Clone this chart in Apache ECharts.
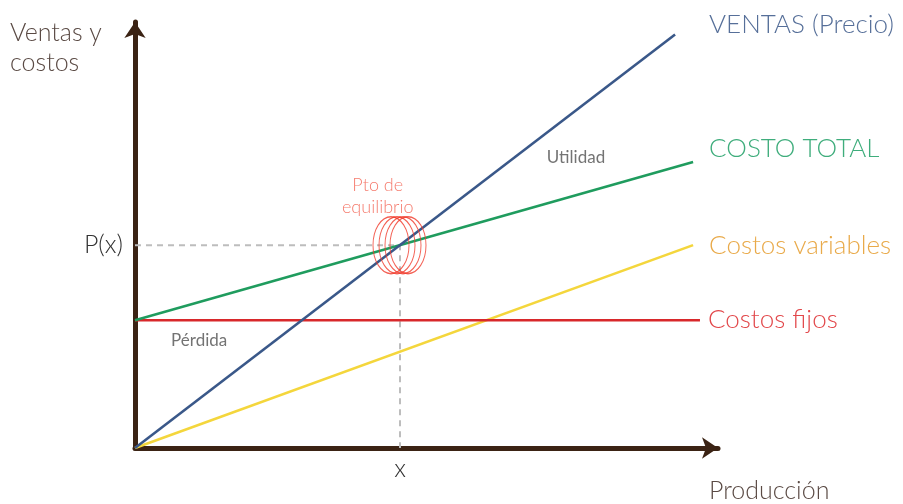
<!DOCTYPE html>
<html><head><meta charset="utf-8">
<script src="https://cdn.jsdelivr.net/npm/echarts@6/dist/echarts.min.js"></script>
<style>html,body{margin:0;padding:0;background:#fff}#c{width:903px;height:504px}</style>
</head><body><div id="c"></div>
<script>
// Data (units of production / money)
const ventas = [[0, 0], [10.19, 10.19]];
const costoTotal = [[0, 3.15], [10.53, 7.05]];
const costosVariables = [[0, 0], [10.53, 5.0]];
const costosFijos = [[0, 3.15], [10.66, 3.15]];
const equilibrio = [5, 5];
const xTickLabel = 'x';
const yTickLabel = 'P(x)';
const notes = [
  { name: 'Utilidad', value: [8.32, 7.17] },
  { name: 'Pérdida', value: [1.21, 2.64] }
];

const FONT = 'Lato, "Open Sans", sans-serif';
const axisColor = '#3b2314';
const chart = echarts.init(document.getElementById('c'));

function lineSeries(name, data, color, textColor, offset) {
  return {
    type: 'line', name, data, showSymbol: false, silent: true,
    lineStyle: { color, width: 2.6 },
    endLabel: { show: true, formatter: name, color: textColor, fontSize: 26, fontWeight: 300,
      fontFamily: FONT, distance: 0, offset, align: 'left' },
    z: 3
  };
}

chart.setOption({
  animation: false,
  grid: { left: 135, right: 185, top: 22, bottom: 56, containLabel: false },
  xAxis: {
    type: 'value', min: 0, max: 11,
    axisLine: { show: true, lineStyle: { color: axisColor, width: 5 }, symbol: ['none', 'arrow'], symbolSize: [16, 16], symbolOffset: [0, 0] },
    axisTick: { show: false },
    splitLine: { show: false },
    axisLabel: { customValues: [equilibrio[0]], formatter: () => xTickLabel, color: '#333', fontSize: 25, fontWeight: 300, fontFamily: FONT, margin: 8 }
  },
  yAxis: {
    type: 'value', min: 0, max: 10.5,
    axisLine: { show: true, lineStyle: { color: axisColor, width: 5 }, symbol: ['none', 'arrow'], symbolSize: [16, 16], symbolOffset: [0, 0] },
    axisTick: { show: false },
    splitLine: { show: false },
    axisLabel: { customValues: [equilibrio[1]], formatter: () => yTickLabel, color: '#333', fontSize: 25, fontWeight: 300, fontFamily: FONT, margin: 12 }
  },
  graphic: [
    { type: 'text', left: 10, top: 18, style: { text: 'Ventas y\ncostos', fill: '#5a4a44', font: '300 25px ' + FONT, lineHeight: 30 } },
    { type: 'text', left: 709, top: 478, style: { text: 'Producción', fill: '#5a4a44', font: '300 25px ' + FONT } }
  ],
  series: [
    {
      type: 'line', silent: true, showSymbol: false, z: 1,
      data: [[0, equilibrio[1]], equilibrio, [equilibrio[0], 0]],
      lineStyle: { color: '#bdbdbd', width: 2, type: [6, 5] }
    },
    lineSeries('Costos variables', costosVariables, '#f4d63c', '#e9aa4a', [16, 0]),
    lineSeries('Costos fijos', costosFijos, '#d8282b', '#e2474a', [8, -1]),
    lineSeries('COSTO TOTAL', costoTotal, '#1f9c5e', '#3fad7c', [16, -13]),
    lineSeries('VENTAS (Precio)', ventas, '#3a5889', '#566f99', [34, -10]),
    {
      type: 'scatter', silent: true, z: 4,
      data: [
        { value: equilibrio, symbolOffset: [-9, 0] },
        { value: equilibrio, symbolOffset: [-3, 0] },
        { value: equilibrio, symbolOffset: [3, 0] },
        { value: equilibrio, symbolOffset: [8, 0] }
      ],
      symbol: 'circle', symbolSize: [36, 57],
      itemStyle: { color: 'rgba(0,0,0,0)', borderColor: '#f03a2a', borderWidth: 1.2 },
      label: { show: false }
    },
    {
      type: 'scatter', silent: true, z: 5, symbolSize: 0,
      data: [{ value: [4.58, 6.2], name: 'Pto de\nequilibrio' }],
      label: { show: true, position: 'inside', formatter: '{b}', color: '#f25a48', fontSize: 18, fontWeight: 300, fontFamily: FONT, lineHeight: 22, align: 'center' }
    },
    {
      type: 'scatter', silent: true, z: 5, symbolSize: 0,
      data: notes,
      label: { show: true, position: 'inside', formatter: '{b}', color: '#505050', fontSize: 17, fontWeight: 'normal', fontFamily: FONT }
    }
  ]
});
</script></body></html>
